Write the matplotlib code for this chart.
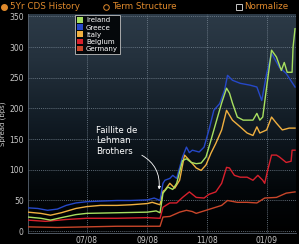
import numpy as np
import pandas as pd
import matplotlib
matplotlib.use('Agg')
import matplotlib.pyplot as plt
from matplotlib.colors import LinearSegmentedColormap
from matplotlib.patches import Patch

# 5Yr CDS spreads (bps)
ireland_dates = ['2008-05-02', '2008-05-15', '2008-05-25', '2008-06-05', '2008-06-20', '2008-07-01',
                 '2008-08-01', '2008-09-01', '2008-09-10', '2008-09-14', '2008-09-17', '2008-09-22',
                 '2008-09-27', '2008-10-01', '2008-10-07', '2008-10-11', '2008-10-16', '2008-10-21',
                 '2008-10-26', '2008-10-31', '2008-11-05', '2008-11-10', '2008-11-16', '2008-11-21',
                 '2008-11-24', '2008-11-27', '2008-12-02', '2008-12-08', '2008-12-18', '2008-12-22',
                 '2008-12-25', '2008-12-28', '2009-01-01', '2009-01-06', '2009-01-11', '2009-01-16',
                 '2009-01-19', '2009-01-22', '2009-01-27', '2009-01-28', '2009-01-30']
ireland_vals = [23, 21, 18, 22, 27, 29, 30, 31, 33, 30, 62, 72, 68, 78, 115, 118, 112, 110, 111, 121,
                148, 176, 209, 233, 225, 209, 186, 181, 181, 192, 181, 186, 235, 295, 284, 262, 275,
                259, 259, 300, 330]

greece_dates = ['2008-05-02', '2008-05-12', '2008-05-22', '2008-06-01', '2008-06-10', '2008-06-20',
                '2008-07-01', '2008-07-15', '2008-08-01', '2008-08-15', '2008-09-01', '2008-09-08',
                '2008-09-14', '2008-09-17', '2008-09-19', '2008-09-24', '2008-09-27', '2008-10-01',
                '2008-10-07', '2008-10-11', '2008-10-14', '2008-10-17', '2008-10-24', '2008-10-29',
                '2008-11-03', '2008-11-08', '2008-11-14', '2008-11-19', '2008-11-22', '2008-11-27',
                '2008-12-05', '2008-12-15', '2008-12-22', '2008-12-27', '2009-01-01', '2009-01-06',
                '2009-01-14', '2009-01-21', '2009-01-30']
greece_vals = [38, 37, 34, 36, 42, 46, 48, 49, 50, 50, 51, 54, 50, 78, 83, 86, 91, 86, 121, 137, 128,
               132, 129, 137, 165, 197, 208, 230, 254, 246, 241, 238, 235, 213, 257, 290, 267, 257, 235]

italy_dates = ['2008-05-02', '2008-05-15', '2008-05-25', '2008-06-05', '2008-06-20', '2008-07-01',
               '2008-07-15', '2008-08-01', '2008-08-15', '2008-09-01', '2008-09-06', '2008-09-14',
               '2008-09-17', '2008-09-19', '2008-09-24', '2008-09-29', '2008-10-04', '2008-10-09',
               '2008-10-12', '2008-10-16', '2008-10-21', '2008-10-26', '2008-10-31', '2008-11-05',
               '2008-11-10', '2008-11-16', '2008-11-21', '2008-11-27', '2008-12-05', '2008-12-12',
               '2008-12-18', '2008-12-22', '2008-12-25', '2009-01-01', '2009-01-06', '2009-01-11',
               '2009-01-17', '2009-01-24', '2009-01-30']
italy_vals = [31, 29, 26, 30, 37, 40, 42, 42, 43, 45, 47, 43, 65, 67, 78, 70, 83, 124, 119, 112, 103,
              99, 108, 127, 143, 165, 197, 181, 170, 160, 156, 170, 160, 165, 186, 176, 165, 168, 168]

belgium_dates = ['2008-05-02', '2008-05-20', '2008-06-10', '2008-07-01', '2008-08-01', '2008-09-01',
                 '2008-09-14', '2008-09-17', '2008-09-24', '2008-10-01', '2008-10-07', '2008-10-14',
                 '2008-10-21', '2008-10-29', '2008-11-03', '2008-11-10', '2008-11-16', '2008-11-21',
                 '2008-11-24', '2008-11-29', '2008-12-05', '2008-12-12', '2008-12-18', '2008-12-23',
                 '2008-12-28', '2008-12-30', '2009-01-02', '2009-01-06', '2009-01-11', '2009-01-14',
                 '2009-01-21', '2009-01-26', '2009-01-27', '2009-01-30']
belgium_vals = [18, 16, 19, 21, 21, 22, 21, 39, 46, 46, 55, 64, 55, 54, 60, 64, 78, 104, 103, 91, 88,
                88, 83, 91, 83, 78, 99, 124, 124, 121, 112, 114, 132, 132]

germany_dates = ['2008-05-02', '2008-06-01', '2008-07-01', '2008-08-01', '2008-09-14', '2008-09-17',
                 '2008-09-24', '2008-10-04', '2008-10-11', '2008-10-17', '2008-10-21', '2008-10-31',
                 '2008-11-10', '2008-11-16', '2008-11-22', '2008-12-02', '2008-12-12', '2008-12-22',
                 '2008-12-30', '2009-01-11', '2009-01-21', '2009-01-30']
germany_vals = [7, 6, 7, 8, 8, 23, 24, 31, 34, 32, 29, 34, 39, 42, 50, 47, 47, 46, 54, 55, 62, 64]

tick_dates = ['2008-07-01', '2008-09-01', '2008-11-01', '2009-01-01']
tick_labels = ['07/08', '09/08', '11/08', '01/09']

col_ireland = '#a8e060'
col_greece = '#2648c8'
col_italy = '#f0b040'
col_belgium = '#d8202c'
col_germany = '#c8462a'

fig = plt.figure(figsize=(2.99, 2.44), dpi=100, facecolor='black')
ax = fig.add_axes([28/299, 1 - 233/244, 268/299, 219/244])
ax.set_facecolor('black')

# dark blue-grey gradient background
cmap = LinearSegmentedColormap.from_list('bg', [(0, '#000000'), (0.2, '#03070a'), (0.5, '#111b24'),
                                                (0.8, '#24313d'), (1, '#2c3a47')])
grad = np.linspace(0, 1, 256).reshape(-1, 1)
ax.imshow(grad, cmap=cmap, aspect='auto', origin='lower', extent=[0, 1, 0, 1],
          transform=ax.transAxes, zorder=0)

series = [(germany_dates, germany_vals, col_germany),
          (belgium_dates, belgium_vals, col_belgium),
          (italy_dates, italy_vals, col_italy),
          (greece_dates, greece_vals, col_greece),
          (ireland_dates, ireland_vals, col_ireland)]
for d, v, c in series:
    ax.plot(pd.to_datetime(d), v, color=c, lw=1.0, zorder=3)

ax.set_xlim(pd.Timestamp('2008-05-02'), pd.Timestamp('2009-01-31'))
ax.set_ylim(-3, 354)
ax.set_yticks(range(0, 351, 50))
ax.set_xticks(pd.to_datetime(tick_dates))
ax.set_xticklabels(tick_labels)
ax.tick_params(length=0, labelsize=5.5, colors='#c8c8c8', pad=3)
ax.tick_params(axis='x', pad=2)
ax.grid(True, color='#7a8896', ls=(0, (1.5, 1.5)), lw=0.5, zorder=1)
for s in ['top', 'right']:
    ax.spines[s].set_visible(False)
for s in ['left', 'bottom']:
    ax.spines[s].set_color('#5a6470')
    ax.spines[s].set_linewidth(0.6)
ax.set_ylabel('Spread (bps)', fontsize=5, color='#d0d0d0')
ax.yaxis.set_label_coords(-0.083, 0.5)

handles = [Patch(facecolor=col_ireland, label='Ireland'),
           Patch(facecolor=col_greece, label='Greece'),
           Patch(facecolor=col_italy, label='Italy'),
           Patch(facecolor=col_belgium, label='Belgium'),
           Patch(facecolor=col_germany, label='Germany')]
leg = ax.legend(handles=handles, loc='upper left', bbox_to_anchor=(0.175, 0.995), borderaxespad=0,
                fontsize=5, frameon=True, facecolor='#05080b', edgecolor='#c0c0c0', framealpha=1,
                handlelength=0.9, handleheight=0.9, handletextpad=0.4, labelspacing=0.12,
                borderpad=0.3, fancybox=False)
leg.get_frame().set_linewidth(0.6)
for t in leg.get_texts():
    t.set_color('white')

ax.annotate('Faillite de\nLehman\nBrothers', xy=(pd.Timestamp('2008-09-13'), 68),
            xytext=(pd.Timestamp('2008-07-11'), 147), fontsize=6.2, color='white',
            ha='left', va='center', linespacing=1.25, zorder=5,
            arrowprops=dict(arrowstyle='-|>', color='white', lw=0.6, mutation_scale=4,
                            connectionstyle='arc3,rad=-0.35', relpos=(1.0, 0.1),
                            shrinkA=1, shrinkB=0))

# header bar
hx = fig.add_axes([0, 1 - 13/244, 1, 13/244])
hx.set_xlim(0, 299)
hx.set_ylim(13, 0)
hx.axis('off')
orange = '#e08a2c'
hx.plot([4], [6.5], marker='o', ms=4, mfc=orange, mec=orange)
hx.plot([106], [6.5], marker='o', ms=4, mfc='none', mec=orange, mew=0.7)
hx.plot([238.5], [6.5], marker='s', ms=4, mfc='black', mec='#c8c8c8', mew=0.7)
hx.text(10, 6.8, '5Yr CDS History', color=orange, fontsize=6.3, va='center', ha='left')
hx.text(112, 6.8, 'Term Structure', color=orange, fontsize=6.3, va='center', ha='left')
hx.text(244, 6.8, 'Normalize', color=orange, fontsize=6.3, va='center', ha='left')

fig.savefig('out.png', dpi=100, facecolor='black')
